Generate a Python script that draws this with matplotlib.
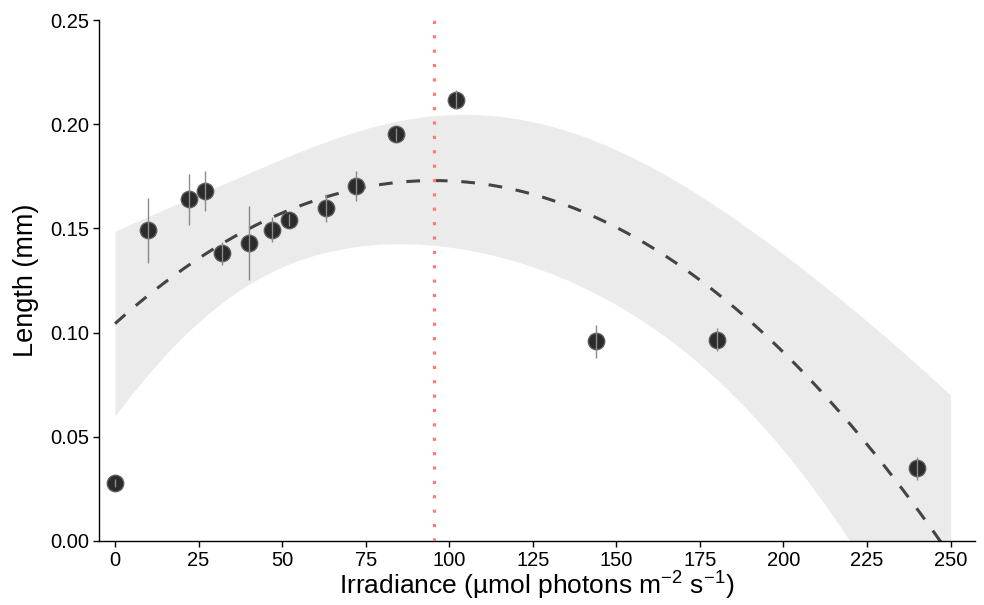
import numpy as np
import matplotlib
matplotlib.use("Agg")
import matplotlib.pyplot as plt

plt.rcParams['font.family'] = ['Liberation Sans', 'DejaVu Sans']
plt.rcParams['mathtext.fontset'] = 'custom'
plt.rcParams['mathtext.rm'] = 'Liberation Sans'
plt.rcParams['mathtext.it'] = 'Liberation Sans:italic'
plt.rcParams['mathtext.default'] = 'regular'

# ---- data ----
irradiance = [0, 10, 22, 27, 32, 40, 47, 52, 63, 72, 84, 102, 144, 180, 240]
length_mean = [0.0278, 0.149, 0.164, 0.168, 0.138, 0.143, 0.1494, 0.1541,
               0.1598, 0.1705, 0.1952, 0.2118, 0.0958, 0.0966, 0.0348]
length_se = [0.002, 0.0156, 0.0122, 0.0095, 0.0054, 0.0176, 0.006, 0.003,
             0.0068, 0.0072, 0.0032, 0.0046, 0.0079, 0.0055, 0.0056]

# quadratic fit (coefficients for x^2, x, 1)
fit_coef = [-7.54e-6, 0.001439, 0.1043]
# confidence band half-width read at these irradiances
band_x = [0, 25, 50, 75, 100, 125, 150, 175, 200, 225, 250]
band_half = [0.0442, 0.031, 0.026, 0.027, 0.032, 0.035, 0.038, 0.040, 0.046, 0.060, 0.077]
optimum_irradiance = 95.4

x_ticks = [0, 25, 50, 75, 100, 125, 150, 175, 200, 225, 250]
y_ticks = [0.00, 0.05, 0.10, 0.15, 0.20, 0.25]

fig = plt.figure(figsize=(9.84, 6.05), dpi=100)
ax = fig.add_axes([99 / 984, 1 - 541 / 605, (975 - 99) / 984, (541 - 20) / 605])

xx = np.linspace(0, 250, 501)
center = np.polyval(fit_coef, xx)
half = np.sqrt(np.polyval(np.polyfit(band_x, np.square(band_half), 4), xx))
ax.fill_between(xx, center - half, center + half, color='#EBEBEB', lw=0, zorder=1)
ax.plot(xx, center, color='#444444', lw=2.2, dashes=(4.5, 4.5), zorder=2)
ax.axvline(optimum_irradiance, color='#FF7B7B', lw=2.3, linestyle=(0, (1, 3.5)), zorder=3)

ax.scatter(irradiance, length_mean, s=140, facecolor='#2b2b2b', edgecolor='#5c5c5c',
           linewidth=1, zorder=4)
ax.errorbar(irradiance, length_mean, yerr=length_se, fmt='none', ecolor='#8a8a8a',
            elinewidth=1, capsize=0, zorder=5)

ax.set_xlim(-4.79, 257.3)
ax.set_ylim(0, 0.25)
ax.set_xticks(x_ticks)
ax.set_xticklabels([str(v) for v in x_ticks])
ax.set_yticks(y_ticks)
ax.set_yticklabels([f"{v:.2f}" for v in y_ticks])

for s in ['top', 'right']:
    ax.spines[s].set_visible(False)
for s in ['left', 'bottom']:
    ax.spines[s].set_linewidth(1.0)
    ax.spines[s].set_color('black')
ax.tick_params(direction='out', length=4, width=1.0, labelsize=14.5, colors='black', pad=3)

ax.set_xlabel('Irradiance (µmol photons m$^{-2}$ s$^{-1}$)', fontsize=19, labelpad=0)
ax.set_ylabel('Length (mm)', fontsize=19.5, labelpad=8)

fig.savefig('out.png', dpi=100)
